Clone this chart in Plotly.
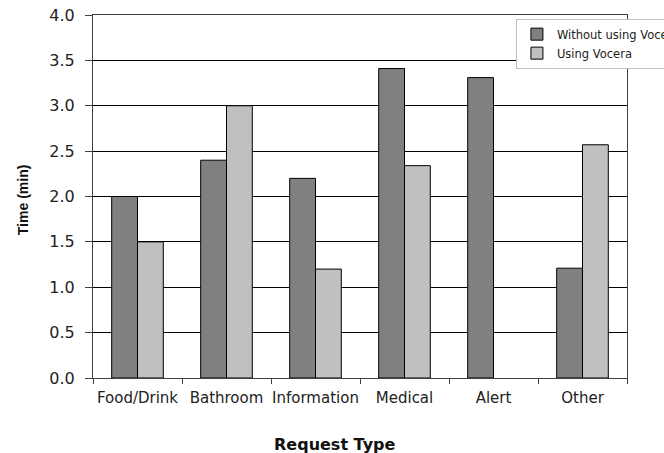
import plotly.graph_objects as go

categories = ["Food/Drink", "Bathroom", "Information", "Medical", "Alert", "Other"]
without_vocera = [2.0, 2.4, 2.2, 3.41, 3.31, 1.21]
using_vocera = [1.5, 3.0, 1.2, 2.34, None, 2.57]
series_names = ["Without using Vocera", "Using Vocera"]
y_ticks = [0.0, 0.5, 1.0, 1.5, 2.0, 2.5, 3.0, 3.5, 4.0]
y_tick_labels = ["0.0", "0.5", "1.0", "1.5", "2.0", "2.5", "3.0", "3.5", "4.0"]

TICK_FONT = "DejaVu Sans"

fig = go.Figure()
fig.add_trace(go.Bar(x=categories, y=without_vocera, name=series_names[0],
                     marker=dict(color="#808080", line=dict(color="#000000", width=1))))
fig.add_trace(go.Bar(x=categories, y=using_vocera, name=series_names[1],
                     marker=dict(color="#c0c0c0", line=dict(color="#000000", width=1))))

fig.update_layout(
    width=664, height=453,
    margin=dict(l=93, r=37, t=15, b=75, autoexpand=False),
    paper_bgcolor="white", plot_bgcolor="white",
    barmode="group", bargap=0.42, bargroupgap=0,
    font=dict(family=TICK_FONT, size=15, color="#222222"),
    legend=dict(x=0.792, y=0.99, xanchor="left", yanchor="top",
                bgcolor="white", bordercolor="#c0c0c0", borderwidth=1,
                font=dict(family=TICK_FONT, size=11.5, color="#222222")),
    xaxis=dict(type="category", showgrid=False, tickson="boundaries",
               ticks="outside", ticklen=5, tickcolor="#404040", tickangle=0,
               ticklabelstandoff=6,
               showline=True, linecolor="#404040", linewidth=1, mirror=True,
               tickfont=dict(family=TICK_FONT, size=15, color="#222222")),
    yaxis=dict(range=[0, 4.0], tickvals=y_ticks, ticktext=y_tick_labels,
               showgrid=True, gridcolor="#000000", gridwidth=1,
               ticks="outside", ticklen=7, tickcolor="#404040",
               ticklabelstandoff=7,
               showline=True, linecolor="#404040", linewidth=1, mirror=True,
               zeroline=False,
               tickfont=dict(family=TICK_FONT, size=16, color="#222222")),
    annotations=[
        dict(text="<b>Request Type</b>", xref="paper", yref="paper",
             x=0.453, y=-0.182, xanchor="center", yanchor="middle", showarrow=False,
             font=dict(family="DejaVu Sans", size=16, color="#111111")),
        dict(text="<b>Time (min)</b>", xref="paper", yref="paper",
             x=-0.131, y=0.49, xanchor="center", yanchor="middle", showarrow=False,
             textangle=-90,
             font=dict(family="Liberation Sans, Arial", size=14, color="#111111")),
    ],
)

fig.write_html("out.html", config={"displayModeBar": False},
               post_script="document.body.style.margin='0';")
